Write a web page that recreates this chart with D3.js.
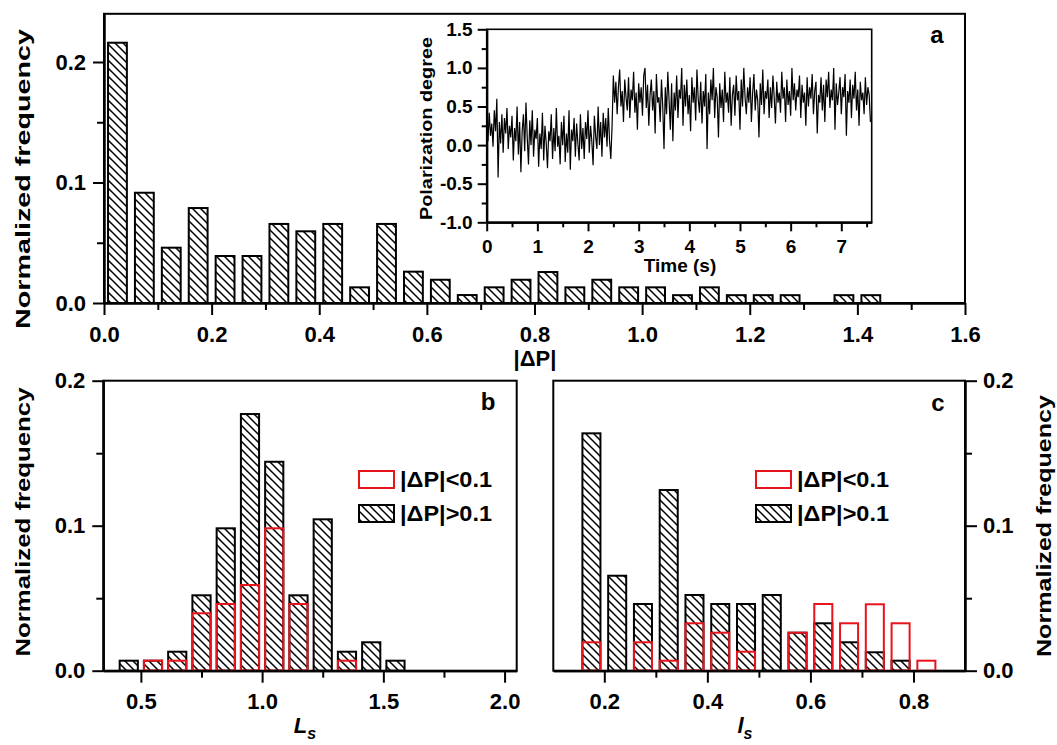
<!DOCTYPE html>
<html>
<head lang="en">
    <meta charset="UTF-8">
    <title>Polarization histograms</title>
    <script type="text/javascript" src="https://cdn.jsdelivr.net/npm/d3@7"></script>
    <style>
        body { margin: 0; background: #fff; }
        svg text { font-family: "Liberation Sans", Arial, sans-serif; font-weight: bold; fill: #000; }
    </style>
</head>
<body>
<svg id="mainSvg" width="1057" height="745"></svg>
<script>
    // ---- panel a : |dP| histogram (bin 0.05) ----
    var dpCenters = [0.025, 0.075, 0.125, 0.175, 0.225, 0.275, 0.325, 0.375, 0.425, 0.475,
        0.525, 0.575, 0.625, 0.675, 0.725, 0.775, 0.825, 0.875, 0.925, 0.975,
        1.025, 1.075, 1.125, 1.175, 1.225, 1.275, 1.325, 1.375, 1.425];
    var dpFreq = [0.216, 0.0915, 0.0459, 0.0788, 0.039, 0.039, 0.0656, 0.0595, 0.0656, 0.013,
        0.0656, 0.026, 0.0193, 0.0066, 0.013, 0.0193, 0.0257, 0.013, 0.0193, 0.013,
        0.013, 0.0065, 0.013, 0.0065, 0.0065, 0.0065, 0, 0.0065, 0.0065];
    var dpTicks = [0, 0.2, 0.4, 0.6, 0.8, 1.0, 1.2, 1.4, 1.6];
    var dpMinor = [0.1, 0.3, 0.5, 0.7, 0.9, 1.1, 1.3, 1.5];
    var freqTicks = [0, 0.1, 0.2];
    var freqMinor = [0.05, 0.15];

    // ---- inset : polarization degree trace ----
    var sampleStep = 0.025;
    var polarization = [
        0.35, 0.05, 0.42, 0.12, 0.28, -0.02, 0.45, 0.18, 0.60, -0.42,
        0.30, 0.02, 0.40, -0.10, 0.35, 0.15, 0.48, -0.05, 0.25, 0.10,
        0.38, -0.20, 0.22, 0.05, 0.50, -0.12, 0.30, -0.35, 0.18, 0.40,
        -0.08, 0.55, 0.10, -0.25, 0.32, 0.00, 0.45, -0.15, 0.20, 0.08,
        0.35, -0.28, 0.15, -0.05, 0.42, -0.20, 0.25, 0.02, -0.30, 0.18,
        0.05, 0.40, -0.18, 0.22, -0.08, 0.48, -0.02, 0.12, -0.25, 0.30,
        0.00, 0.38, -0.22, 0.15, -0.10, 0.45, -0.32, 0.20, 0.05, 0.35,
        -0.15, 0.28, 0.02, -0.20, 0.40, -0.05, 0.22, -0.18, 0.30, 0.08,
        0.45, -0.10, 0.25, 0.05, -0.26, 0.38, 0.12, -0.05, 0.50, 0.00,
        0.30, -0.15, 0.42, 0.10, 0.35, -0.02, 0.48, 0.05, -0.18, 0.25,
        0.90, 0.55, 0.82, 0.40, 0.75, 0.98, 0.50, 0.70, 0.30, 0.85, 0.62, 0.45,
        0.88, 0.35, 0.72, 0.58, 0.95, 0.42, 0.68, 0.20, 0.80, 0.55, 0.75, 0.38,
        0.90, 1.00, 0.48, 0.78, 0.25, 0.65, 0.85, 0.45, 0.70, 0.15, 0.92, 0.55,
        0.62, 0.30, 0.85, 0.50, -0.05, 0.75, 0.40, 0.95, 0.58, 0.20, 0.80, 0.05,
        0.68, 0.45, 0.90, 0.35, 0.72, 0.60, 1.00, 0.25, 0.78, 0.50, 0.85, 0.40,
        0.65, 0.18, 0.88, 0.55, 0.75, 0.32, 0.98, 0.60, 0.42, 0.82, 0.28, 0.70,
        0.50, 0.92, -0.05, 0.68, 0.40, 0.85, 0.58, 1.00, 0.35, 0.75, 0.62, 0.10,
        0.80, 0.48, 0.72, 0.30, 0.95, 0.55, 0.68, 0.42, 0.88, 0.25, 0.65, 0.78,
        0.38, 0.90, 0.58, 0.70, 0.20, 0.85, 0.50, 1.00, 0.62, 0.40, 0.75, 0.55,
        0.88, 0.30, 0.68, 0.92, 0.45, 0.72, 0.58, 0.10, 0.80, 0.52, 0.98, 0.40,
        0.70, 0.60, 0.85, 0.35, 0.75, 0.48, 0.90, 0.62, 0.28, 0.82, 0.55, 0.68,
        0.42, 0.95, 0.60, 0.75, 0.30, 0.85, 0.52, 0.70, 0.38, 1.00, 0.58, 0.80,
        0.45, 0.72, 0.62, 0.90, 0.35, 0.78, 0.55, 0.68, 0.25, 0.88, 0.50, 0.75,
        0.60, 0.92, 0.40, 0.70, 0.82, 0.15, 0.65, 0.55, 0.88, 0.45, 0.78, 0.30,
        0.85, 0.62, 0.95, 0.48, 0.72, 0.58, 1.00, 0.20, 0.80, 0.52, 0.68, 0.88,
        0.40, 0.75, 0.62, 0.92, 0.12, 0.70, 0.55, 0.85, 0.35, 0.78, 0.60, 0.95,
        0.45, 0.72, 0.25, 0.82, 0.58, 0.68, 0.40, 0.88, 0.52, 0.75, 0.65, 0.30
    ];
    var timeTicks = [0, 1, 2, 3, 4, 5, 6, 7];
    var timeMinor = [0.5, 1.5, 2.5, 3.5, 4.5, 5.5, 6.5, 7.5];
    var polTicks = [-1.0, -0.5, 0.0, 0.5, 1.0, 1.5];
    var polMinor = [-0.75, -0.25, 0.25, 0.75, 1.25];

    // ---- panel b : Ls histogram (bin 0.1) ----
    var lsCenters = [0.45, 0.55, 0.65, 0.75, 0.85, 0.95, 1.05, 1.15, 1.25, 1.35, 1.45, 1.55];
    var lsHigh = [0.0069, 0.0069, 0.0131, 0.052, 0.0982, 0.177, 0.1441, 0.052, 0.1044, 0.0131, 0.0196, 0.0069];
    var lsLow = [0, 0.0069, 0.0069, 0.0396, 0.046, 0.0591, 0.0982, 0.046, 0, 0.0069, 0, 0];
    var lsTicks = [0.5, 1.0, 1.5, 2.0];
    var lsMinor = [0.75, 1.25, 1.75];

    // ---- panel c : ls histogram (bin 0.05) ----
    var isCenters = [0.175, 0.225, 0.275, 0.325, 0.375, 0.425, 0.475, 0.525, 0.575, 0.625, 0.675, 0.725, 0.775, 0.825];
    var isHigh = [0.1637, 0.0655, 0.046, 0.1246, 0.0522, 0.046, 0.046, 0.0522, 0.0262, 0.0327, 0.0196, 0.0127, 0.0069, 0];
    var isLow = [0.0196, 0, 0.0196, 0.0069, 0.0327, 0.0262, 0.0131, 0, 0.0262, 0.046, 0.0327, 0.0458, 0.0327, 0.0069];
    var isTicks = [0.2, 0.4, 0.6, 0.8];
    var isMinor = [0.3, 0.5, 0.7];
    var freqTicksB = [0, 0.1, 0.2];
    var freqMinorB = [0.05, 0.15];

    var legendNames = ["|\u0394P|<0.1", "|\u0394P|>0.1"];

    var svg = d3.select("#mainSvg");
    var red = "#e8141b";

    svg.append("defs").append("pattern")
            .attr("id", "hatch")
            .attr("patternUnits", "userSpaceOnUse")
            .attr("width", 8)
            .attr("height", 8)
            .append("path")
            .attr("d", "M-2,-2L10,10M-2,6L2,10M6,-2L10,2")
            .attr("stroke", "#000")
            .attr("stroke-width", 1.5);

    var xA = d3.scaleLinear().domain([0, 1.6]).range([104, 965]);
    var yA = d3.scaleLinear().domain([0, 0.24]).range([303, 13.8]);
    var xI = d3.scaleLinear().domain([0, 7.6]).range([486.7, 871.7]);
    var yI = d3.scaleLinear().domain([-1, 1.5]).range([222.3, 29.3]);
    var xB = d3.scaleLinear().domain([0.345, 2.05]).range([103.3, 516.7]);
    var yB = d3.scaleLinear().domain([0, 0.2]).range([670.7, 380.7]);
    var xC = d3.scaleLinear().domain([0.101, 0.9]).range([553.3, 965]);
    var yC = d3.scaleLinear().domain([0, 0.2]).range([670.7, 380.7]);

    function frame(x, y) {
        var r = x.range(), s = y.range();
        svg.append("rect")
                .attr("x", r[0]).attr("y", s[1])
                .attr("width", r[1] - r[0]).attr("height", s[0] - s[1])
                .attr("fill", "none").attr("stroke", "#000").attr("stroke-width", 2);
    }

    function bars(centers, values, x, y, binW, stroke, fill) {
        var w = x(binW) - x(0);
        svg.append("g")
                .selectAll("rect")
                .data(centers.map(function (c, i) { return {c: c, v: values[i]}; })
                        .filter(function (d) { return d.v > 0; }))
                .enter()
                .append("rect")
                .attr("x", function (d) { return x(d.c) - w / 2; })
                .attr("y", function (d) { return y(d.v); })
                .attr("width", w)
                .attr("height", function (d) { return y(0) - y(d.v); })
                .attr("fill", fill)
                .attr("stroke", stroke)
                .attr("stroke-width", 2);
    }

    function axis(gen, pos, vals, size, fmt, fs, pad) {
        var g = svg.append("g")
                .attr("transform", pos)
                .call(gen.tickValues(vals).tickSize(size).tickSizeOuter(0)
                        .tickPadding(pad || 8).tickFormat(fmt));
        g.attr("font-size", fs || 22).attr("font-family", null);
        g.select(".domain").attr("stroke-width", 2);
        g.selectAll(".tick line").attr("stroke-width", 2);
        return g;
    }

    function noLabel() { return ""; }
    var f1 = function (d) { return d.toFixed(1); };

    // ---------- panel a ----------
    frame(xA, yA);
    bars(dpCenters, dpFreq, xA, yA, 0.035, "#000", "url(#hatch)");
    axis(d3.axisBottom(xA), "translate(0," + yA(0) + ")", dpTicks, 12, f1, 22, 11);
    axis(d3.axisBottom(xA), "translate(0," + yA(0) + ")", dpMinor, 7, noLabel);
    axis(d3.axisLeft(yA), "translate(" + xA(0) + ",0)", freqTicks, 11, f1, 22, 7);
    axis(d3.axisLeft(yA), "translate(" + xA(0) + ",0)", freqMinor, 7, noLabel);

    svg.append("text").attr("x", 535).attr("y", 366).attr("text-anchor", "middle")
            .attr("font-size", 22).text("|\u0394P|");
    svg.append("text").attr("transform", "translate(30,179) rotate(-90)")
            .attr("text-anchor", "middle").attr("font-size", 20)
            .attr("textLength", 300).attr("lengthAdjust", "spacingAndGlyphs")
            .text("Normalized frequency");
    svg.append("text").attr("x", 937).attr("y", 43).attr("text-anchor", "middle")
            .attr("font-size", 24).text("a");

    // ---------- inset ----------
    var ir = xI.range(), is = yI.range();
    svg.append("rect").attr("x", ir[0]).attr("y", is[1])
            .attr("width", ir[1] - ir[0]).attr("height", is[0] - is[1])
            .attr("fill", "#fff").attr("stroke", "#000").attr("stroke-width", 1.6);
    var line = d3.line()
            .x(function (d, i) { return xI(i * sampleStep); })
            .y(function (d) { return yI(d); });
    svg.append("path").datum(polarization)
            .attr("d", line)
            .attr("fill", "none")
            .attr("stroke", "#000")
            .attr("stroke-width", 1.2);
    axis(d3.axisBottom(xI), "translate(0," + is[0] + ")", timeTicks, 9, d3.format("d"), 19, 8);
    axis(d3.axisBottom(xI), "translate(0," + is[0] + ")", timeMinor, 5, noLabel);
    axis(d3.axisLeft(yI), "translate(" + ir[0] + ",0)", polTicks, 9, f1, 19, 5);
    axis(d3.axisLeft(yI), "translate(" + ir[0] + ",0)", polMinor, 5, noLabel);
    svg.append("text").attr("x", 680).attr("y", 272).attr("text-anchor", "middle")
            .attr("font-size", 19).text("Time (s)");
    svg.append("text").attr("transform", "translate(432,128.5) rotate(-90)")
            .attr("text-anchor", "middle").attr("font-size", 17)
            .attr("textLength", 183).attr("lengthAdjust", "spacingAndGlyphs")
            .text("Polarization degree");

    // ---------- panel b ----------
    frame(xB, yB);
    bars(lsCenters, lsHigh, xB, yB, 0.075, "#000", "url(#hatch)");
    bars(lsCenters, lsLow, xB, yB, 0.075, red, "none");
    axis(d3.axisBottom(xB), "translate(0," + yB(0) + ")", lsTicks, 12, f1, 22, 11);
    axis(d3.axisBottom(xB), "translate(0," + yB(0) + ")", lsMinor, 7, noLabel);
    axis(d3.axisLeft(yB), "translate(" + xB.range()[0] + ",0)", freqTicksB, 11, f1, 22, 7);
    axis(d3.axisLeft(yB), "translate(" + xB.range()[0] + ",0)", freqMinorB, 7, noLabel);
    svg.append("text").attr("transform", "translate(30,522) rotate(-90)")
            .attr("text-anchor", "middle").attr("font-size", 20)
            .attr("textLength", 269).attr("lengthAdjust", "spacingAndGlyphs")
            .text("Normalized frequency");
    var lb = svg.append("text").attr("x", 305).attr("y", 733).attr("text-anchor", "middle")
            .attr("font-size", 22).attr("font-style", "italic");
    lb.append("tspan").text("L");
    lb.append("tspan").attr("dy", 6).attr("font-size", 16).text("s");
    svg.append("text").attr("x", 488).attr("y", 410).attr("text-anchor", "middle")
            .attr("font-size", 24).text("b");

    // ---------- panel c ----------
    frame(xC, yC);
    bars(isCenters, isHigh, xC, yC, 0.035, "#000", "url(#hatch)");
    bars(isCenters, isLow, xC, yC, 0.035, red, "none");
    axis(d3.axisBottom(xC), "translate(0," + yC(0) + ")", isTicks, 12, f1, 22, 11);
    axis(d3.axisBottom(xC), "translate(0," + yC(0) + ")", isMinor, 7, noLabel);
    axis(d3.axisRight(yC), "translate(" + xC.range()[1] + ",0)", freqTicksB, 12, f1, 22, 6);
    axis(d3.axisRight(yC), "translate(" + xC.range()[1] + ",0)", freqMinorB, 7, noLabel);
    svg.append("text").attr("transform", "translate(1051,526) rotate(-90)")
            .attr("text-anchor", "middle").attr("font-size", 20)
            .attr("textLength", 262).attr("lengthAdjust", "spacingAndGlyphs")
            .text("Normalized frequency");
    var lc = svg.append("text").attr("x", 745).attr("y", 733).attr("text-anchor", "middle")
            .attr("font-size", 22).attr("font-style", "italic");
    lc.append("tspan").text("l");
    lc.append("tspan").attr("dy", 6).attr("font-size", 16).text("s");
    svg.append("text").attr("x", 938).attr("y", 411).attr("text-anchor", "middle")
            .attr("font-size", 24).text("c");

    // ---------- legends ----------
    function legend(x0) {
        var g = svg.append("g");
        g.selectAll("rect")
                .data(legendNames)
                .enter()
                .append("rect")
                .attr("x", x0)
                .attr("y", function (d, i) { return 471 + i * 34; })
                .attr("width", 35)
                .attr("height", 17)
                .attr("fill", function (d, i) { return i ? "url(#hatch)" : "none"; })
                .attr("stroke", function (d, i) { return i ? "#000" : red; })
                .attr("stroke-width", 2);
        g.selectAll("text")
                .data(legendNames)
                .enter()
                .append("text")
                .attr("x", x0 + 41)
                .attr("y", function (d, i) { return 487 + i * 34; })
                .attr("font-size", 22)
                .attr("textLength", 92).attr("lengthAdjust", "spacingAndGlyphs")
                .text(function (d) { return d; });
    }
    legend(359);
    legend(756);
</script>
</body>
</html>
